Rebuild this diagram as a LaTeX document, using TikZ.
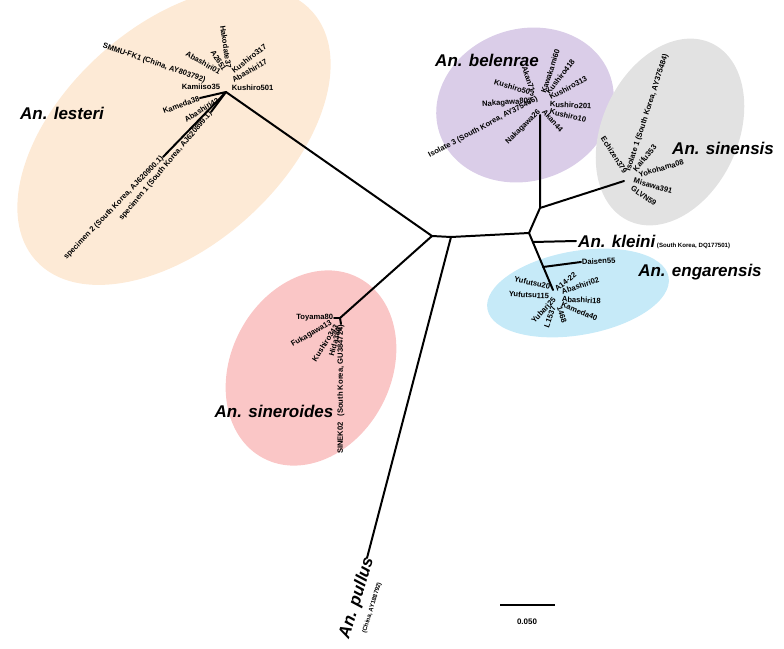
\documentclass[tikz,border=0pt]{standalone}
\usepackage{fontspec}
\setmainfont{Liberation Sans}
\usepackage{tikz}
\usetikzlibrary{backgrounds}
\definecolor{peach}{RGB}{253,234,214}
\definecolor{lilac}{RGB}{218,205,232}
\definecolor{silver}{RGB}{226,226,226}
\definecolor{skyblue}{RGB}{198,234,248}
\definecolor{rose}{RGB}{250,198,198}
\tikzset{
  branch/.style={line width=1.7pt, line cap=round},
  leaf/.style={font=\bfseries\fontsize{6.5}{7}\selectfont, inner sep=0.6pt},
  taxon/.style={font=\bfseries\itshape\fontsize{14.5}{17}\selectfont, inner sep=0pt},
  note/.style={font=\bfseries\fontsize{5.2}{6}\selectfont, inner sep=0pt}
}

\begin{document}
\begin{tikzpicture}[x=0.03cm, y=-0.03cm]
  \useasboundingbox (0,0) rectangle (784,649);
  \fill[peach, rotate around={42:(174,136)}] (174,136) ellipse (186 and 110);
  \fill[lilac, rotate around={18:(525,105)}] (525,105) ellipse (90 and 76);
  \fill[silver, rotate around={65:(670,132)}] (670,132) ellipse (98 and 68);
  \fill[skyblue, rotate around={10:(578,293)}] (578,293) ellipse (92 and 42);
  \fill[rose, rotate around={62:(311,368)}] (311,368) ellipse (102 and 80);

  \coordinate (a) at (432,236);
  \coordinate (b) at (451,237);
  \coordinate (c) at (529,233);
  \coordinate (d) at (540,208);
  \coordinate (e) at (533,242);
  \coordinate (f) at (543,267);
  \coordinate (hles) at (226,92);
  \coordinate (hsin) at (340,318);
  \coordinate (hbel) at (540,115);
  \coordinate (hsns) at (624,181);
  \coordinate (heng) at (553,290);
  \coordinate (lpul) at (367,558);
  \coordinate (lkle) at (576,241);
  \coordinate (ldai) at (581,262);
  \coordinate (lsp2) at (163,157);
  \coordinate (lsp1) at (211,112);
  \coordinate (lkam) at (200,98);
  \coordinate (ltoy) at (334,318);
  \coordinate (lsnk) at (341,324);

  \draw[branch] (hles) -- (a) -- (hsin);
  \draw[branch] (a) -- (b) -- (c);
  \draw[branch] (b) -- (lpul);
  \draw[branch] (c) -- (d) -- (hbel);
  \draw[branch] (d) -- (hsns);
  \draw[branch] (c) -- (heng);
  \draw[branch] (e) -- (lkle);
  \draw[branch] (f) -- (ldai);
  \draw[branch] (hles) -- (lsp2);
  \draw[branch] (hles) -- (lsp1);
  \draw[branch] (hles) -- (lkam);
  \draw[branch] (hsin) -- (ltoy);
  \draw[branch] (hsin) -- (lsnk);

  \node[leaf, rotate=-19, anchor=east] (smmu) at (206,81) {SMMU-FK1 (China, AY803792)};
  \node[leaf, rotate=-30, anchor=east] (abs01) at (221,73) {Abashiri01};
  \node[leaf, rotate=-58, anchor=east] (a2651) at (225,71) {A2651};
  \node[leaf, rotate=-82, anchor=east] (hak37) at (229,69) {Hakodate37};
  \node[leaf, rotate=38, anchor=west] (kus317) at (232,72) {Kushiro317};
  \node[leaf, rotate=30, anchor=west] (abs17) at (232,81) {Abashiri17};
  \node[leaf, anchor=west] (kus501) at (231,88) {Kushiro501};
  \node[leaf, anchor=east] (kam35) at (221,87) {Kamiiso35};
  \node[leaf, rotate=20, anchor=east] (kme38) at (lkam) {Kameda38};
  \node[leaf, rotate=32, anchor=east] (abs42) at (219,99) {Abashiri42};
  \node[leaf, rotate=50, anchor=east] (spc1) at (lsp1) {specimen 1 (South Korea, AJ620899.1)};
  \node[leaf, rotate=46, anchor=east] (spc2) at (lsp2) {specimen 2 (South Korea, AJ620900.1)};

  \node[leaf, rotate=-72, anchor=east] (akn71) at (533,93) {Akan71};
  \node[leaf, rotate=72, anchor=west] (kwk60) at (543,94) {Kawakami60};
  \node[leaf, rotate=52, anchor=west] (kus418) at (547,94) {Kushiro418};
  \node[leaf, rotate=28, anchor=west] (kus313) at (549,98) {Kushiro313};
  \node[leaf, rotate=-3, anchor=west] (kus201) at (549,104) {Kushiro201};
  \node[leaf, rotate=-14, anchor=west] (kus10) at (549,111) {Kushiro10};
  \node[leaf, rotate=-48, anchor=west] (akn44) at (543,110) {Akan44};
  \node[leaf, rotate=45, anchor=east] (nkg26) at (540,110) {Nakagawa26};
  \node[leaf, rotate=4, anchor=east] (nkg807) at (533,101) {Nakagawa807};
  \node[leaf, rotate=-17, anchor=east] (kus503) at (535,94) {Kushiro503};
  \node[leaf, rotate=28, anchor=east] (iso3) at (538,98) {Isolate 3 (South Korea, AY375466)};

  \node[leaf, rotate=-57, anchor=east] (ech379) at (626,173) {Echizen379};
  \node[leaf, rotate=72, anchor=west] (iso1) at (628,172) {Isolate 1 (South Korea, AY375484)};
  \node[leaf, rotate=50, anchor=west] (kai353) at (634,171) {Kaifu353};
  \node[leaf, rotate=16, anchor=west] (yok08) at (638,175) {Yokohama08};
  \node[leaf, rotate=-16, anchor=west] (mis391) at (633,180) {Misawa391};
  \node[leaf, rotate=-35, anchor=west] (glvn59) at (631,187) {GLVN59};

  \node[leaf, rotate=-12, anchor=east] (yuf20) at (551,287) {Yufutsu20};
  \node[leaf, rotate=38, anchor=west] (a1422) at (555,290) {A14-22};
  \node[leaf, rotate=18, anchor=west] (abs02) at (561,292) {Abashiri02};
  \node[leaf, rotate=-3, anchor=east] (yuf115) at (550,296) {Yufutsu115};
  \node[leaf, rotate=-3, anchor=west] (abs18) at (561,299) {Abashiri18};
  \node[leaf, rotate=47, anchor=east] (yub25) at (555,298) {Yubari25};
  \node[leaf, rotate=-22, anchor=west] (kme40) at (561,304) {Kameda40};
  \node[leaf, rotate=70, anchor=east] (l1537) at (554,306) {L1537};
  \node[leaf, rotate=-72, anchor=west] (n1468) at (559,306) {1468};
  \node[leaf, rotate=3, anchor=west] (dai55) at (ldai) {Daisen55};

  \node[leaf, anchor=east] (toy80) at (ltoy) {Toyama80};
  \node[leaf, rotate=30, anchor=east] (fuk13) at (332,322) {Fukagawa13};
  \node[leaf, rotate=57, anchor=east] (kus343) at (337,325) {Kushiro343};
  \node[leaf, rotate=75, anchor=east] (hid386) at (339,327) {Hida386};
  \node[leaf, rotate=90, anchor=east] (snk02) at (lsnk) {SINEK02\hspace{5pt}(South Korea, GU384724)};

  \node[taxon] (lesteri) at (62,113) {An. lesteri};
  \node[taxon] (belenrae) at (487,60) {An. belenrae};
  \node[taxon, anchor=west] (sinensis) at (672,148) {An. sinensis};
  \node[taxon, anchor=west] (kleini) at (578,241) {An. kleini};
  \node[note, anchor=base west] (kleinisrc) at ([xshift=1pt]kleini.base east) {(South Korea, DQ177501)};
  \node[taxon] (engarensis) at (700,272) {An. engarensis};
  \node[taxon] (sineroides) at (274,411) {An. sineroides};
  \node[taxon, rotate=73] (pullus) at (357,598) {An. pullus};
  \node[note, rotate=73] (pullussrc) at (372,608) {(China, AY188792)};

  \coordinate (s1) at (500,605);
  \coordinate (s2) at (555,605);
  \draw[line width=1.3pt] (s1) -- (s2);
  \node[leaf, font=\bfseries\fontsize{6.8}{8}\selectfont] (scale) at (527,622) {0.050};
\end{tikzpicture}
\end{document}
